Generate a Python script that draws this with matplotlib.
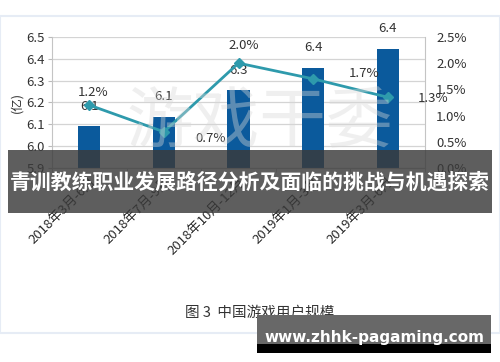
import matplotlib.pyplot as plt
from matplotlib.patches import Rectangle

plt.rcParams['font.family'] = ['Noto Sans CJK SC', 'DejaVu Sans']

# data
periods = ["2018年3月-6月", "2018年7月-9月", "2018年10月-12月", "2019年1月-3月", "2019年3月-6月"]
users = [6.09, 6.135, 6.255, 6.36, 6.445]          # 亿
user_labels = ["6.1", "6.1", "6.3", "6.4", "6.4"]
growth = [1.2, 0.69, 2.0, 1.7, 1.35]                # %
growth_labels = ["1.2%", "0.7%", "2.0%", "1.7%", "1.3%"]
left_ticks = [5.9, 6.0, 6.1, 6.2, 6.3, 6.4, 6.5]
right_ticks = [0.0, 0.5, 1.0, 1.5, 2.0, 2.5]

fig = plt.figure(figsize=(5, 3.62), dpi=100)
fig.patch.set_facecolor('white')

# faint frame of the pasted picture
fig.add_artist(Rectangle((0, 0.08), 1, 0.875, transform=fig.transFigure,
                         facecolor='white', edgecolor='#e6ecf5', lw=1.5, zorder=0))

ax = fig.add_axes([0.104, 0.536, 0.746, 0.362])
x = range(len(periods))
ax.bar(x, users, width=0.3, color='#0b5a9c', zorder=2)
ax.set_ylim(5.9, 6.5)
ax.set_xlim(-0.5, 4.5)
ax.set_yticks(left_ticks)
ax.set_yticklabels([f"{v:.1f}" for v in left_ticks], fontsize=9.5, color='#333333')
ax.grid(axis='y', color='#d4d4d4', lw=0.9, zorder=0)
ax.set_xticks(list(x))
ax.set_xticklabels(periods, rotation=45, ha='right', rotation_mode='anchor',
                   fontsize=9.5, color='#2a2a2a')
ax.tick_params(axis='x', length=0, pad=5)
ax.set_xticks([i + 0.5 for i in range(-1, 5)], minor=True)
ax.tick_params(axis='x', which='minor', length=3, color='#bbbbbb')
ax.tick_params(axis='y', length=3, color='#bbbbbb', pad=2)
for s in ['left', 'right', 'bottom']:
    ax.spines[s].set_color('#c4c4c4')
ax.spines['top'].set_visible(False)
ax.set_ylabel("(亿)", fontsize=9, color='#333333', labelpad=2)

for i, (v, lab) in enumerate(zip(users, user_labels)):
    ax.annotate(lab, (i, v), xytext=(0, 10), textcoords='offset points',
                ha='center', va='bottom', fontsize=9.5, color='#333333', zorder=5)

ax2 = ax.twinx()
ax2.plot(list(x), growth, color='#2e9aac', lw=2, marker='D', markersize=5.5, zorder=4)
ax2.set_ylim(0, 2.5)
ax2.set_yticks(right_ticks)
ax2.set_yticklabels([f"{v:.1f}%" for v in right_ticks], fontsize=9.5, color='#333333')
ax2.tick_params(axis='y', length=0, pad=8)
for s in ax2.spines.values():
    s.set_visible(False)

offsets = [(3, 9), (34, -5), (4, 13), (37, 4), (33, -1)]
for i, (v, lab) in enumerate(zip(growth, growth_labels)):
    ax2.annotate(lab, (i, v), xytext=offsets[i], textcoords='offset points',
                 ha='center', va='center', fontsize=9.5, color='#333333')

# faint background watermark
fig.text(0.52, 0.66, "游戏干委", fontsize=48, color='#d8d8d8', alpha=0.4,
         ha='center', va='center', zorder=10)

# dark title banner
fig.add_artist(Rectangle((0.016, 0.412), 0.968, 0.174, transform=fig.transFigure,
                         facecolor='#3a3a3a', alpha=0.82, edgecolor='none', zorder=20))
fig.text(0.5, 0.497, "青训教练职业发展路径分析及面临的挑战与机遇探索", fontsize=15,
         fontweight='bold', color='white', ha='center', va='center', zorder=21)

fig.text(0.52, 0.135, "图 3  中国游戏用户规模", fontsize=10.5, color='#333333',
         ha='center', va='center')

# site tag bottom right
fig.add_artist(Rectangle((0.514, 0.047), 0.468, 0.083, transform=fig.transFigure,
                         facecolor='#686868', edgecolor='none', zorder=20))
fig.add_artist(Rectangle((0.514, 0.025), 0.468, 0.024, transform=fig.transFigure,
                         facecolor='black', edgecolor='none', zorder=20))
fig.text(0.748, 0.069, "www.zhhk-pagaming.com", fontsize=11, fontweight='bold',
         color='white', ha='center', va='center', zorder=21, family='DejaVu Sans')

fig.savefig('out.png', dpi=100)
